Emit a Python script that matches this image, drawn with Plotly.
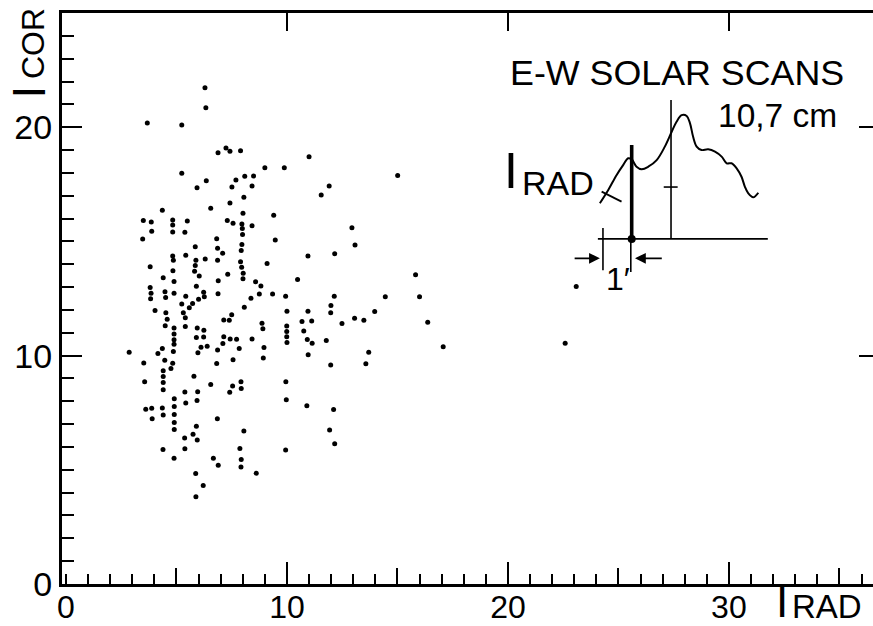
import plotly.graph_objects as go

# ---------------- data ----------------
x_rad = [
    6.29, 6.33, 3.68, 5.24, 6.88, 7.24, 7.42, 7.90, 5.24, 6.35,
    5.93, 7.69, 8.09, 7.51, 8.05, 7.42, 4.36, 6.55, 8.01, 3.50,
    3.86, 4.83, 4.83, 5.49, 7.30, 7.56, 7.96, 7.98, 3.88, 4.83,
    5.38, 7.99, 3.47, 6.82, 5.85, 6.86, 7.96, 7.09, 7.93, 4.83,
    5.42, 4.86, 5.88, 6.30, 6.86, 7.90, 7.95, 3.81, 4.84, 5.85,
    5.82, 6.03, 7.32, 8.02, 8.01, 4.40, 4.89, 6.89, 5.90, 3.81,
    3.85, 3.83, 4.48, 4.51, 4.89, 5.42, 6.23, 6.26, 6.00, 6.88,
    5.73, 5.24, 5.58, 8.07, 4.03, 4.52, 5.31, 5.40, 4.58, 7.50,
    7.14, 7.39, 4.49, 4.89, 5.40, 5.94, 6.24, 4.89, 4.89, 4.89,
    5.90, 6.23, 7.14, 7.43, 7.72, 7.10, 6.11, 6.39, 7.84, 2.86,
    4.36, 4.16, 4.86, 5.97, 6.86, 3.52, 4.47, 4.83, 4.75, 6.82,
    7.56, 4.40, 4.40, 5.79, 3.56, 4.40, 4.40, 6.55, 7.54, 7.92,
    7.93, 7.41, 5.38, 5.96, 4.90, 5.42, 5.93, 4.90, 3.61, 3.88,
    4.36, 4.40, 4.90, 3.90, 6.85, 4.90, 4.90, 5.90, 5.75, 5.94,
    5.37, 8.05, 4.39, 5.38, 4.89, 7.87, 6.67, 6.89, 7.93, 7.92,
    5.87, 6.21, 5.88,
    11.00, 9.00, 9.88, 8.49, 8.42, 11.91, 11.55, 9.40, 8.42, 12.94,
    9.47, 13.08, 10.95, 12.16, 9.10, 10.48, 8.58, 8.82, 8.75, 9.35,
    9.94, 12.14, 8.37,
    10.00, 10.95, 11.99, 11.98, 13.97, 8.87, 8.91, 9.99, 9.99, 9.99,
    10.00, 10.68, 11.12, 10.76, 10.92, 11.14, 11.78, 12.49, 13.06, 13.48,
    8.42, 8.96, 8.93, 10.96, 11.98, 13.70, 13.57, 9.95, 9.97, 10.90,
    12.11, 11.93, 12.16, 9.94, 8.61,
    15.01, 15.82, 14.45, 16.00, 16.37, 17.07, 23.09, 22.59,
]

y_cor = [
    21.73, 20.85, 20.18, 20.10, 18.88, 19.09, 18.95, 18.97, 17.98, 17.65,
    17.35, 17.69, 17.85, 17.38, 16.93, 16.68, 16.36, 16.45, 16.23, 15.91,
    15.85, 15.94, 15.72, 15.89, 15.91, 15.79, 15.76, 15.56, 15.44, 15.41,
    15.40, 15.30, 15.11, 15.12, 14.77, 14.70, 14.86, 14.48, 14.60, 14.36,
    14.39, 14.17, 14.17, 14.23, 14.17, 14.11, 13.87, 13.89, 13.71, 13.94,
    13.69, 13.49, 13.56, 13.61, 13.36, 13.41, 13.24, 13.28, 13.04, 12.98,
    12.73, 12.49, 12.80, 12.54, 12.73, 12.60, 12.77, 12.58, 12.47, 12.71,
    12.28, 12.26, 12.10, 12.12, 11.97, 11.88, 11.88, 11.66, 11.59, 11.79,
    11.56, 11.55, 11.31, 11.21, 11.27, 11.21, 11.11, 10.95, 10.69, 10.50,
    10.79, 10.81, 10.83, 10.73, 10.72, 10.53, 10.37, 10.41, 10.31, 10.15,
    10.31, 10.09, 10.18, 10.12, 10.24, 9.68, 9.80, 9.67, 9.43, 9.65,
    9.82, 9.34, 9.08, 9.10, 8.85, 8.82, 8.50, 8.73, 8.67, 8.85,
    8.56, 8.40, 8.41, 8.42, 8.11, 7.92, 8.03, 7.77, 7.65, 7.70,
    7.71, 7.40, 7.42, 7.24, 7.24, 7.07, 6.76, 6.91, 6.56, 6.31,
    6.39, 6.70, 5.89, 5.92, 5.51, 5.93, 5.51, 5.20, 5.45, 5.12,
    4.84, 4.31, 3.82,
    18.71, 18.23, 18.23, 17.86, 17.43, 17.43, 17.03, 16.14, 15.69, 15.60,
    15.06, 14.84, 14.36, 14.46, 14.03, 13.33, 13.23, 13.05, 12.70, 12.70,
    12.60, 12.60, 12.51,
    11.94, 11.94, 12.19, 11.88, 11.93, 11.42, 11.18, 11.30, 11.05, 10.82,
    10.57, 11.49, 11.52, 11.08, 10.70, 10.54, 10.66, 11.40, 11.64, 11.55,
    10.73, 10.35, 9.90, 10.04, 9.59, 10.15, 9.64, 8.86, 8.07, 7.80,
    7.64, 6.74, 6.14, 5.87, 4.85,
    17.88, 13.54, 12.58, 12.58, 11.46, 10.39, 13.02, 10.54,
]

# tick labels
x_tick_vals = [0, 10, 20, 30]
x_tick_text = ["0", "10", "20", "30"]
y_tick_vals = [0, 10, 20]
y_tick_text = ["0", "10", "20"]
x_mid_ticks = [5, 15, 25, 35]
x_top_ticks = [10, 20, 30]
y_right_ticks = [10, 20]

# inset sketch of a solar scan (in the chart's data units)
scan_x = [24.16, 24.54, 24.92, 25.22, 25.44, 25.60, 25.82, 26.05, 26.35, 26.73,
          27.10, 27.41, 27.63, 27.86, 28.09, 28.24, 28.38, 28.54, 28.76, 29.06,
          29.37, 29.67, 29.90, 30.12, 30.35, 30.57, 30.72, 30.87, 31.10, 31.33]
scan_y = [16.67, 17.25, 17.91, 18.35, 18.64, 18.59, 18.27, 18.16, 18.27, 18.56,
          19.15, 19.80, 20.24, 20.53, 20.49, 20.17, 19.58, 19.15, 19.00, 19.03,
          18.93, 18.71, 18.42, 18.42, 18.20, 17.83, 17.40, 17.11, 16.93, 17.13]
cross_x = [24.24, 25.14]
cross_y = [17.18, 16.74]
base_x = [24.07, 31.76]
base_y = [15.11, 15.11]
irad_bar_x = [25.60, 25.60]
irad_bar_y = [19.22, 15.11]
irad_ext_x = [25.56, 25.56]
irad_ext_y = [15.11, 13.66]
left_dim_x = [24.30, 24.30]
left_dim_y = [15.59, 13.74]
peak_line_x = [27.38, 27.38]
peak_line_y = [21.19, 15.11]
peak_tick_x = [27.05, 27.68]
peak_tick_y = [17.38, 17.38]
foot_x = [25.60]
foot_y = [15.11]
arrow_left = (22.95, 24.16, 14.26)   # from x, to x, at y
arrow_right = (27.03, 25.75, 14.26)

FONT = "Liberation Sans, Arial, sans-serif"
BLACK = "black"

fig = go.Figure()

fig.add_trace(go.Scatter(
    x=x_rad, y=y_cor, mode="markers",
    marker=dict(size=5, color=BLACK, line=dict(width=0)),
    showlegend=False, hoverinfo="skip", cliponaxis=False))

for xs, ys, w in [(scan_x, scan_y, 2.0), (cross_x, cross_y, 1.8), (base_x, base_y, 1.6),
                  (irad_bar_x, irad_bar_y, 3.6), (irad_ext_x, irad_ext_y, 1.6),
                  (left_dim_x, left_dim_y, 1.6), (peak_line_x, peak_line_y, 1.6),
                  (peak_tick_x, peak_tick_y, 1.6)]:
    fig.add_trace(go.Scatter(x=xs, y=ys, mode="lines",
                             line=dict(color=BLACK, width=w, shape="spline" if len(xs) > 2 else "linear"),
                             showlegend=False, hoverinfo="skip"))
fig.add_trace(go.Scatter(x=foot_x, y=foot_y, mode="markers",
                         marker=dict(size=8, color=BLACK), showlegend=False, hoverinfo="skip"))

# invisible helper traces so that the overlaid tick axes are drawn
fig.add_trace(go.Scatter(x=[None], y=[None], xaxis="x2", yaxis="y", showlegend=False))
fig.add_trace(go.Scatter(x=[None], y=[None], xaxis="x3", yaxis="y", showlegend=False))
fig.add_trace(go.Scatter(x=[None], y=[None], xaxis="x4", yaxis="y", showlegend=False))
fig.add_trace(go.Scatter(x=[None], y=[None], xaxis="x", yaxis="y2", showlegend=False))

XR = [-0.18, 36.52]
YR = [0, 25]
common = dict(showgrid=False, zeroline=False, automargin=False, fixedrange=True)

fig.update_layout(
    width=873, height=626,
    margin=dict(l=62, r=0, t=13, b=42, pad=0, autoexpand=False),
    paper_bgcolor="white", plot_bgcolor="white",
    showlegend=False,
    xaxis=dict(range=XR, **common,
               showline=True, linecolor=BLACK, linewidth=3, mirror=True,
               tickmode="array", tickvals=x_tick_vals, ticktext=x_tick_text,
               ticks="", tickfont=dict(family=FONT, size=32, color=BLACK),
               ticklabelstandoff=-7,
               minor=dict(dtick=1, tick0=0, ticks="inside", ticklen=10,
                          tickwidth=2, tickcolor=BLACK, showgrid=False)),
    xaxis2=dict(range=XR, overlaying="x", side="top", anchor="y", **common,
                showline=False,
                tickmode="array", tickvals=x_top_ticks, ticks="inside",
                ticklen=18, tickwidth=2, tickcolor=BLACK, showticklabels=False),
    xaxis3=dict(range=XR, overlaying="x", side="bottom", anchor="y", **common,
                showline=False,
                tickmode="array", tickvals=x_top_ticks, ticks="inside",
                ticklen=22, tickwidth=2, tickcolor=BLACK, showticklabels=False),
    xaxis4=dict(range=XR, overlaying="x", side="bottom", anchor="y", **common,
                showline=False,
                tickmode="array", tickvals=x_mid_ticks, ticks="inside",
                ticklen=16, tickwidth=2, tickcolor=BLACK, showticklabels=False),
    yaxis=dict(range=YR, **common,
               showline=True, linecolor=BLACK, linewidth=3, mirror=False,
               tickmode="array", tickvals=y_tick_vals, ticktext=y_tick_text,
               ticks="inside", ticklen=20, tickwidth=2, tickcolor=BLACK,
               tickfont=dict(family=FONT, size=34, color=BLACK), ticklabelstandoff=0,
               minor=dict(dtick=1, tick0=0, ticks="inside", ticklen=12,
                          tickwidth=2, tickcolor=BLACK, showgrid=False)),
    yaxis2=dict(range=YR, overlaying="y", side="right", anchor="x", **common,
                showline=False,
                tickmode="array", tickvals=y_right_ticks, ticks="inside",
                ticklen=14, tickwidth=2, tickcolor=BLACK, showticklabels=False),
)

ann = []
def txt(t, x, y, size, xanchor="left", yanchor="middle"):
    ann.append(dict(text=t, x=x, y=y, xref="x", yref="y", showarrow=False,
                    xanchor=xanchor, yanchor=yanchor,
                    font=dict(family=FONT, size=size, color=BLACK)))

txt("E-W SOLAR SCANS", 20.02, 22.36, 35.8)
txt("10,7 cm", 29.40, 20.50, 33.5)
txt("I", 20.16, 18.08, 50, xanchor="center")
txt("RAD", 20.56, 17.55, 34)
txt("1\u2032", 24.98, 13.35, 32, xanchor="center")
# axis titles (paper coordinates, outside the plotting area)
ann.append(dict(text="I", x=0.8872, y=-0.030, xref="paper", yref="paper",
                showarrow=False, xanchor="center", yanchor="middle",
                font=dict(family=FONT, size=44, color=BLACK)))
ann.append(dict(text="RAD", x=0.8977, y=-0.040, xref="paper", yref="paper",
                showarrow=False, xanchor="left", yanchor="middle",
                font=dict(family=FONT, size=33, color=BLACK)))
ann.append(dict(text="I", x=-0.0413, y=0.8617, xref="paper", yref="paper",
                showarrow=False, xanchor="center", yanchor="middle", textangle=-90,
                font=dict(family=FONT, size=46, color=BLACK)))
ann.append(dict(text="COR", x=-0.0351, y=0.9466, xref="paper", yref="paper",
                showarrow=False, xanchor="center", yanchor="middle", textangle=-90,
                font=dict(family=FONT, size=32, color=BLACK)))

for (x0, x1, yy) in [arrow_left, arrow_right]:
    ann.append(dict(text="", x=x1, y=yy, ax=x0, ay=yy, xref="x", yref="y",
                    axref="x", ayref="y", showarrow=True, arrowhead=2,
                    arrowsize=1.2, arrowwidth=1.8, arrowcolor=BLACK, standoff=0))

fig.update_layout(annotations=ann)
fig.write_html(
    "out.html",
    config={"displayModeBar": False, "staticPlot": True},
    post_script="document.body.style.margin='0px';document.body.style.padding='0px';"
                "document.body.style.overflow='hidden';",
)
